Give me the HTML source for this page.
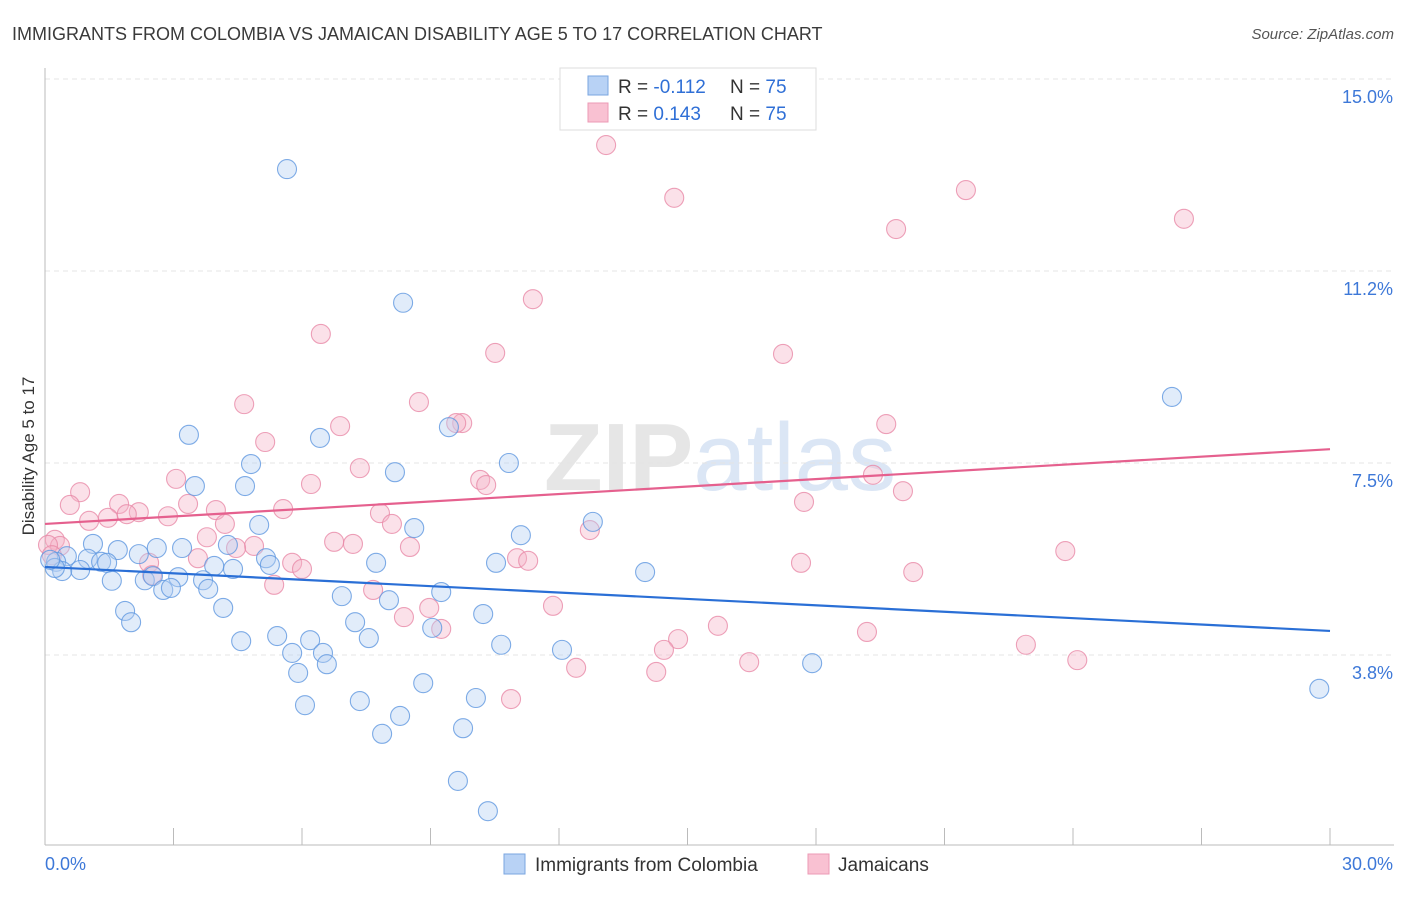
<!DOCTYPE html>
<html><head><meta charset="utf-8">
<style>
body{margin:0;background:#fff;font-family:"Liberation Sans",sans-serif;}
svg text{font-family:"Liberation Sans",sans-serif;}
</style></head>
<body>
<svg id="chart" width="1406" height="892" viewBox="0 0 1406 892" xmlns="http://www.w3.org/2000/svg">
<text x="12" y="40" font-size="18" fill="#3a3a3a">IMMIGRANTS FROM COLOMBIA VS JAMAICAN DISABILITY AGE 5 TO 17 CORRELATION CHART</text>
<text x="1394" y="39" font-size="15" fill="#555" font-style="italic" text-anchor="end">Source: ZipAtlas.com</text>
<text x="720" y="490" font-size="96" fill="#e6e6e6" text-anchor="middle" font-weight="bold">ZIP<tspan fill="#dbe6f5" font-weight="normal">atlas</tspan></text>
<text transform="translate(34,456) rotate(-90)" font-size="17" fill="#333" text-anchor="middle">Disability Age 5 to 17</text>
<g id="grid"></g>
<g id="axes"></g>
<g id="points"></g>
<g id="trends"></g>
<g>
<rect x="560" y="68" width="256" height="62" fill="#fff" stroke="#ddd"/>
<rect x="588" y="76" width="20" height="19" fill="#b8d2f5" stroke="#7aa6e0"/>
<rect x="588" y="103" width="20" height="19" fill="#f9c1d2" stroke="#ec9ab5"/>
<text x="618" y="93" font-size="19" fill="#333">R = <tspan fill="#2f6fd6">-0.112</tspan></text>
<text x="730" y="93" font-size="19" fill="#333">N = <tspan fill="#2f6fd6">75</tspan></text>
<text x="618" y="120" font-size="19" fill="#333">R = <tspan fill="#2f6fd6"> 0.143</tspan></text>
<text x="730" y="120" font-size="19" fill="#333">N = <tspan fill="#2f6fd6">75</tspan></text>
</g>
<g>
<rect x="504" y="854" width="21" height="20" fill="#b8d2f5" stroke="#7aa6e0"/>
<text x="535" y="871" font-size="19" fill="#333">Immigrants from Colombia</text>
<rect x="808" y="854" width="21" height="20" fill="#f9c1d2" stroke="#ec9ab5"/>
<text x="838" y="871" font-size="19" fill="#333">Jamaicans</text>
</g>
</svg>
<script>
const blueX=[5.65,8.36,26.31,3.36,6.42,9.43,4.81,8.17,10.83,3.50,4.67,12.79,5.00,8.62,11.11,1.12,1.70,2.61,3.20,4.27,2.19,0.51,1.00,0.26,1.31,1.45,0.82,0.40,3.95,4.39,5.16,5.25,7.73,10.53,14.01,1.56,2.33,2.52,3.11,3.69,2.76,2.94,3.81,6.93,8.03,9.25,1.87,4.16,2.01,7.24,10.23,9.04,4.58,5.42,6.19,7.56,5.77,6.49,10.65,12.07,5.91,6.58,17.91,8.83,29.75,7.35,10.06,6.07,8.29,9.76,7.87,9.64,10.34,0.23,0.12];
const blueY=[13.24,10.63,8.79,8.05,7.99,8.20,7.48,7.32,7.50,7.05,7.05,6.35,6.29,6.23,6.09,5.92,5.80,5.84,5.84,5.90,5.72,5.68,5.63,5.57,5.57,5.55,5.41,5.39,5.49,5.43,5.64,5.51,5.55,5.55,5.37,5.20,5.21,5.29,5.27,5.21,5.02,5.06,5.04,4.90,4.82,4.98,4.61,4.67,4.39,4.39,4.55,4.28,4.02,4.12,4.04,4.08,3.79,3.79,3.95,3.85,3.40,3.57,3.59,3.20,3.09,2.85,2.91,2.77,2.56,2.32,2.21,1.29,0.70,5.45,5.61];
const pinkX=[13.10,14.69,21.50,26.59,19.87,11.39,6.44,10.51,17.23,4.65,8.73,9.74,19.64,6.89,5.14,9.60,7.35,10.16,3.06,6.21,10.30,19.33,20.03,0.82,0.58,1.73,3.34,17.72,2.19,2.87,3.99,5.56,7.82,1.03,1.47,1.91,4.20,8.10,12.72,3.78,6.75,7.19,4.88,8.52,4.46,0.23,0.35,23.82,3.57,5.77,11.02,11.28,2.43,6.00,17.65,20.27,2.50,5.35,7.66,11.86,8.97,8.38,9.25,15.71,19.19,14.78,14.45,22.90,16.44,24.10,12.40,14.27,10.88,0.07,0.16];
const pinkY=[13.71,12.68,12.83,12.27,12.07,10.70,10.02,9.65,9.63,8.65,8.69,8.28,8.26,8.22,7.91,8.28,7.40,7.17,7.19,7.09,7.07,7.27,6.95,6.93,6.68,6.70,6.70,6.74,6.54,6.46,6.58,6.60,6.52,6.37,6.43,6.50,6.31,6.31,6.19,6.05,5.96,5.92,5.88,5.86,5.84,6.00,5.88,5.78,5.64,5.55,5.64,5.59,5.55,5.43,5.55,5.37,5.31,5.12,5.02,4.71,4.67,4.49,4.26,4.32,4.20,4.06,3.85,3.95,3.61,3.65,3.50,3.42,2.89,5.90,5.70];
const blueTrend=[5.47,4.22];
const pinkTrend=[6.31,7.77];
const yTicks=[3.75,7.5,11.25,15.0];
const yTickLabels=["3.8%","7.5%","11.2%","15.0%"];
const xTickCount=10;
const NS="http://www.w3.org/2000/svg";
const X0=45,X1=1330,YB=847;
const xs=v=>X0+v*(X1-X0)/30;
const ys=v=>YB-v*51.2;
function mk(tag,attrs,parent){const e=document.createElementNS(NS,tag);for(const k in attrs)e.setAttribute(k,attrs[k]);parent.appendChild(e);return e;}
const grid=document.getElementById('grid'),axes=document.getElementById('axes'),pts=document.getElementById('points'),tr=document.getElementById('trends');
yTicks.forEach((t,i)=>{
  const l=mk('line',{x1:X0,x2:1394,y1:ys(t),y2:ys(t),stroke:'#e4e4e4','stroke-dasharray':'5,4'},grid);
  
  
  const tx=mk('text',{x:1393,y:ys(t)+24,'font-size':18,fill:'#3d78d8','text-anchor':'end'},grid);
  tx.textContent=yTickLabels[i];
  
  
});
const ya=mk('line',{x1:X0,x2:X0,y1:68,y2:845,stroke:'#bbb'},axes);


const xa=mk('line',{x1:X0,x2:1394,y1:845,y2:845,stroke:'#bbb'},axes);


for(let i=0;i<=xTickCount;i++){
  const x=xs(i*3);
  const t=mk('line',{x1:x,x2:x,y1:828,y2:845,stroke:'#bbb'},axes);
  
  
}
const xl0=mk('text',{x:45,y:870,'font-size':18,fill:'#3d78d8'},axes);xl0.textContent='0.0%';


const xl1=mk('text',{x:1393,y:870,'font-size':18,fill:'#3d78d8','text-anchor':'end'},axes);xl1.textContent='30.0%';


function drawPts(X,Y,fill,stroke,name){
  X.forEach((v,i)=>{
    const c=mk('circle',{cx:xs(v),cy:ys(Y[i]),r:9.5,fill:fill,'fill-opacity':0.4,stroke:stroke,'stroke-opacity':0.8,'stroke-width':1.1},pts);
    
    
  });
}
drawPts(pinkX,pinkY,'#f6b4c8','#e889a7','point-jamaicans');
drawPts(blueX,blueY,'#b4cff2','#5f97e0','point-colombia');
const bl=mk('line',{x1:xs(0),y1:ys(blueTrend[0]),x2:xs(30),y2:ys(blueTrend[1]),stroke:'#2a6fd6','stroke-width':2.2},tr);


const pl=mk('line',{x1:xs(0),y1:ys(pinkTrend[0]),x2:xs(30),y2:ys(pinkTrend[1]),stroke:'#e5608e','stroke-width':2.2},tr);


</script>
</body></html>
